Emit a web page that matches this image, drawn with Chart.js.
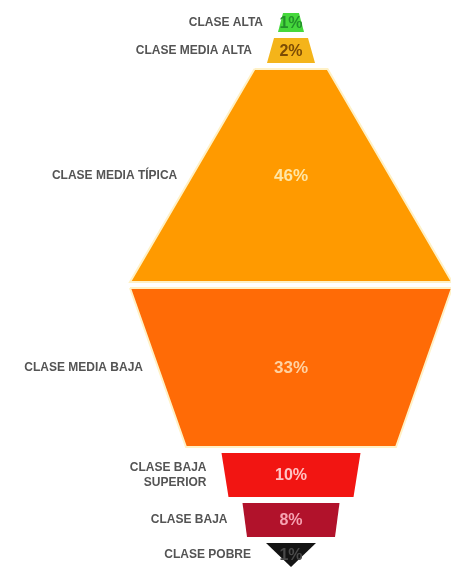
<!DOCTYPE html>
<html>
<head>
<meta charset="utf-8">
<script src="https://cdn.jsdelivr.net/npm/chart.js@4.4.1/dist/chart.umd.min.js"></script>
<style>
  html, body { margin: 0; padding: 0; background: #fff; }
  #wrap { width: 451px; height: 567px; position: relative; }
</style>
</head>
<body>
<div id="wrap"><canvas id="funnel"></canvas></div>
<script>
// Segments from top to bottom
const categories = ['CLASE ALTA', 'CLASE MEDIA ALTA', 'CLASE MEDIA TÍPICA', 'CLASE MEDIA BAJA', ['CLASE BAJA', 'SUPERIOR'], 'CLASE BAJA', 'CLASE POBRE'];
const shares = [1, 2, 46, 33, 10, 8, 1];
// funnel shape (width at top / bottom, band height)
const topWidths = [16, 34, 73, 322, 139, 97, 50];
const bottomWidths = [26, 48, 322, 210, 125, 88, 0];
const bandHeights = [19, 25, 213, 159, 44, 34, 24];

const fillColors = ['#46d83c', '#f4b41a', '#ff9a00', '#ff6b06', '#f21512', '#b1122b', '#141414'];
const textColors = ['#23902a', '#7c4c05', '#ffe6a6', '#ffd2a2', '#ffc4c4', '#f6a3b2', '#4a4a4a'];
const edgeColors = [null, null, '#fff1c6', '#fff1c6', null, null, null];

const startY = 13;
const gap = 6;

// stack bands vertically
const tops = [];
let cursor = startY;
bandHeights.forEach(h => { tops.push(cursor); cursor += h + gap; });

const datasets = shares.map((v, i) => {
  const t = tops[i], b = tops[i] + bandHeights[i];
  const tw = topWidths[i] / 2, bw = bottomWidths[i] / 2;
  return {
    label: Array.isArray(categories[i]) ? categories[i].join(' ') : categories[i],
    data: [
      { x: -tw, y: t }, { x: tw, y: t },
      { x: bw, y: b }, { x: -bw, y: b }, { x: -tw, y: t }
    ],
    showLine: true,
    fill: 'shape',
    backgroundColor: fillColors[i],
    borderColor: edgeColors[i] || fillColors[i],
    borderWidth: edgeColors[i] ? 2 : 0,
    pointRadius: 0,
    tension: 0
  };
});

const funnelText = {
  id: 'funnelText',
  afterDatasetsDraw(chart) {
    const { ctx, scales: { x, y } } = chart;
    ctx.save();
    ctx.textBaseline = 'middle';
    shares.forEach((v, i) => {
      const midY = y.getPixelForValue(tops[i] + bandHeights[i] / 2);
      const cx = x.getPixelForValue(0);
      // percentage inside band
      ctx.font = 'bold ' + (v > 20 ? 17 : 16) + 'px "Liberation Sans", Arial, sans-serif';
      ctx.fillStyle = textColors[i];
      ctx.textAlign = 'center';
      ctx.fillText(v + '%', cx, midY + 1);
      // category label to the left
      const w = bandHeights[i] > 60 ? (topWidths[i] + bottomWidths[i]) / 2 : Math.max(topWidths[i], bottomWidths[i]);
      const right = x.getPixelForValue(-w / 2) - 15;
      ctx.font = 'bold 12px "Liberation Sans", Arial, sans-serif';
      ctx.fillStyle = '#545454';
      ctx.textAlign = 'right';
      const lines = Array.isArray(categories[i]) ? categories[i] : [categories[i]];
      lines.forEach((ln, k) => {
        ctx.fillText(ln, right, midY + (k - (lines.length - 1) / 2) * 15);
      });
    });
    ctx.restore();
  }
};

new Chart(document.getElementById('funnel'), {
  type: 'scatter',
  data: { datasets },
  options: {
    responsive: true,
    maintainAspectRatio: false,
    animation: false,
    layout: { padding: 0 },
    scales: {
      x: { type: 'linear', display: false, min: -291, max: 160 },
      y: { type: 'linear', display: false, reverse: true, min: 0, max: 567 }
    },
    plugins: {
      legend: { display: false },
      tooltip: { enabled: false }
    }
  },
  plugins: [funnelText]
});
</script>
</body>
</html>
